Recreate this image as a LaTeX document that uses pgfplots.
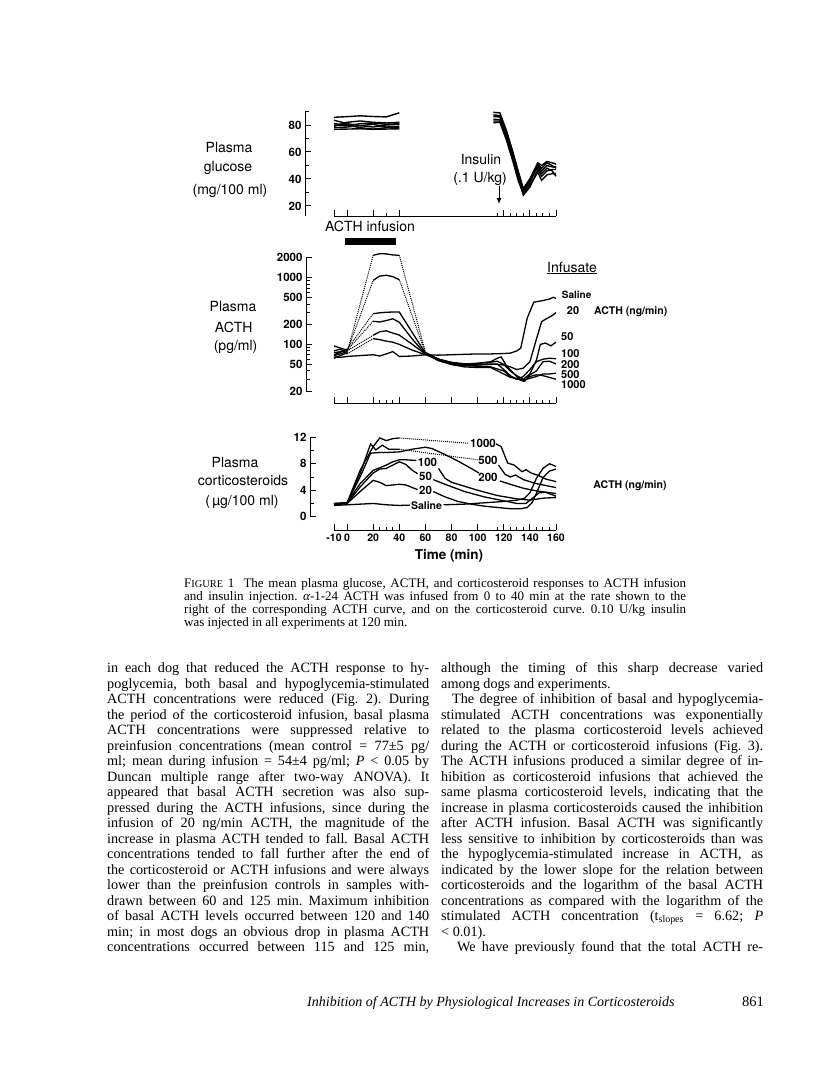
\documentclass[border=0pt]{standalone}
\usepackage{pgfplots}
\pgfplotsset{compat=1.18}
\usepackage{fontspec}
\usetikzlibrary{arrows.meta}
\setmainfont{Liberation Serif}
\newfontfamily\figfont{TeX Gyre Heros}
\frenchspacing
\newcommand{\bodyf}{\fontsize{14.2}{15.5}\selectfont}
\newcommand{\capf}{\fontsize{13}{13}\selectfont}
\newcommand{\jl}[3]{\node[anchor=base west,inner sep=0pt,font=\bodyf] at (#1pt,-#2pt) {\hbox to 322pt{#3}};}
\newcommand{\rl}[3]{\node[anchor=base west,inner sep=0pt,font=\bodyf] at (#1pt,-#2pt) {#3};}
\newcommand{\cl}[2]{\node[anchor=base west,inner sep=0pt,font=\capf] at (184pt,-#1pt) {\hbox to 502pt{#2}};}
\pgfplotsset{
 panel/.style={
  scale only axis, width=222pt, xmin=-10, xmax=160, enlargelimits=false, clip=false,
  axis lines=left, axis line style={-,line width=1pt},
  tick align=inside, major tick length=6pt, minor tick length=3.5pt,
  every tick/.append style={black,line width=1pt},
  xtick={-10,0,20,40,60,80,100,120,140,160},
  minor xtick={25,30,35,115,125,130,135,145,150,155},
  xticklabel=\empty,
  tick label style={font=\figfont\bfseries\fontsize{11.5}{13}\selectfont},
  /pgf/number format/assume math mode=true,
  anchor=south west,
 },
 cur/.style={black,line width=1.3pt,no markers},
 gl/.style={black,line width=1.4pt,no markers},
 dot/.style={black,line width=1pt,densely dotted,no markers},
}
\begin{document}
\frenchspacing
\begin{tikzpicture}
\fill[white] (0,0) rectangle (816pt,-1092pt);
\path[use as bounding box] (0,0) rectangle (816pt,-1092pt);

% ---------------- glucose
\begin{axis}[panel, at={(334pt,-216.1pt)}, height=104.6pt,
  ymin=12.5, ymax=90, ytick={20,40,60,80}, minor ytick={30,50,70,90},
  xtick={-10,0,20,40,120,140,160}, minor xtick={30,115,125,130,135,145,150,155},
  axis y line shift=29pt, axis x line shift=0pt]
\addplot[gl] coordinates {(-10,85.7)(0,86.2)(10,86.8)(20,86.3)(30,86.0)(40,89.0)};
\addplot[gl] coordinates {(-10,83.5)(0,81.0)(10,79.5)(20,78.5)(30,80.0)(40,80.5)};
\addplot[gl] coordinates {(-10,79.0)(0,82.0)(10,83.0)(20,82.0)(30,81.5)(40,82.0)};
\addplot[gl] coordinates {(-10,78.0)(0,78.5)(10,79.5)(20,80.5)(30,78.5)(40,79.0)};
\addplot[gl] coordinates {(-10,81.0)(0,80.0)(10,78.0)(20,77.0)(30,78.0)(40,78.0)};
\addplot[gl] coordinates {(-10,76.8)(0,77.0)(10,77.2)(20,76.8)(30,77.0)(40,77.2)};
\addplot[gl] coordinates {(-10,80.0)(0,79.5)(10,81.0)(20,81.5)(30,80.5)(40,81.0)};
\addplot[gl] coordinates {(112,89.4)(117,89.0)(122,76)(127,60)(131,46)(135,33)(140,40)(146,52)(149,50)(153,53)(157,52)(160,51)};
\addplot[gl] coordinates {(112,86.2)(117,86.0)(122,73)(127,57)(131,43)(135,30)(140,37)(146,50)(149,46)(153,50)(157,49)(160,49)};
\addplot[gl] coordinates {(112,84.2)(117,84.0)(122,71)(127,55)(131,41)(135,28)(140,34)(146,47)(149,42)(153,46)(157,47)(160,47)};
\addplot[gl] coordinates {(112,81.7)(117,82.0)(122,69)(127,53)(131,39)(135,29)(140,35)(146,45)(149,39)(153,43)(157,44)(160,44)};
\addplot[gl] coordinates {(112,83.0)(117,83.0)(122,71)(127,56)(131,43)(135,32)(140,40)(146,49)(149,44)(153,48)(157,46)(160,42)};
\addplot[gl] coordinates {(112,87.5)(117,87.0)(122,75)(127,59)(131,45)(135,31)(140,38)(146,51)(149,48)(153,52)(157,50)(160,48)};
\end{axis}

% ---------------- ACTH
\begin{axis}[panel, at={(334pt,-391pt)}, height=133.3pt,
  ymode=log, ymin=20, ymax=2000,
  ytick={20,50,100,200,500,1000,2000}, yticklabels={20,50,100,200,500,1000,2000},
  minor ytick={30,40,60,70,80,90,300,400,600,700,800,900},
  axis y line shift=28pt, axis x line shift=12pt]
% saline
\addplot[cur] coordinates {(-10,65)(-5,64)(0,66)(10,68)(20,70)(25,67)(30,72)(35,78)(40,66)(50,67)(60,70)(70,69)(80,70)(90,71)(100,72)(110,72)(120,73)(125,74)(130,80)(133,88)(138,250)(143,430)(150,455)(155,480)(158,510)(160,490)};
% 20
\addplot[cur] coordinates {(-10,80)(-5,85)(0,72)};
\addplot[dot] coordinates {(0,72)(20,122)};
\addplot[cur] coordinates {(20,122)(25,118)(30,112)(35,108)(40,100)(50,82)(60,70)(70,60)(80,54)(90,51)(100,50)(110,51)(120,49)(125,46)(130,42)(135,44)(140,55)(145,120)(149,220)(153,245)(157,270)(160,300)};
% 50
\addplot[cur] coordinates {(-10,75)(-5,78)(0,80)};
\addplot[dot] coordinates {(0,80)(20,137)};
\addplot[cur] coordinates {(20,137)(25,155)(30,160)(35,148)(40,138)(50,100)(60,72)(70,60)(80,53)(90,51)(100,52)(110,54)(115,56)(120,50)(125,40)(130,34)(135,30)(140,36)(145,58)(148,100)(152,105)(156,95)(160,108)};
% 100
\addplot[cur] coordinates {(-10,95)(-5,88)(0,82)};
\addplot[dot] coordinates {(0,82)(20,222)};
\addplot[cur] coordinates {(20,222)(25,217)(30,228)(35,242)(40,215)(50,120)(60,72)(70,57)(80,50)(90,48)(100,49)(110,50)(115,51)(120,42)(125,34)(130,30)(135,33)(140,42)(145,55)(150,60)(155,62)(160,61)};
% 200
\addplot[cur] coordinates {(-10,70)(-5,76)(0,85)};
\addplot[dot] coordinates {(0,85)(20,289)};
\addplot[cur] coordinates {(20,289)(25,298)(30,304)(35,306)(40,306)(50,150)(60,74)(70,58)(80,51)(90,50)(100,52)(110,55)(115,62)(118,65)(122,48)(128,36)(132,30)(136,28)(140,35)(145,40)(150,55)(155,56)(160,51)};
% 500
\addplot[cur] coordinates {(-10,68)(-5,72)(0,78)};
\addplot[dot] coordinates {(0,78)(20,914)};
\addplot[cur] coordinates {(20,914)(25,1060)(30,1090)(35,1040)(40,935)};
\addplot[dot] coordinates {(40,935)(60,74)};
\addplot[cur] coordinates {(60,74)(70,60)(80,52)(90,48)(100,47)(110,46)(120,40)(125,33)(130,30)(135,29)(140,31)(145,33)(150,36)(155,36)(160,37)};
% 1000
\addplot[cur] coordinates {(-10,62)(-5,68)(0,75)};
\addplot[dot] coordinates {(0,75)(20,2170)};
\addplot[cur] coordinates {(20,2170)(25,2300)(30,2280)(35,2200)(40,2170)};
\addplot[dot] coordinates {(40,2170)(60,76)};
\addplot[cur] coordinates {(60,76)(70,60)(80,50)(90,46)(100,45)(110,45)(120,36)(125,32)(130,31)(135,28)(140,33)(145,35)(150,34)(155,32)(160,30)};
\end{axis}

% ---------------- corticosteroids
\begin{axis}[panel, at={(334pt,-516.7pt)}, height=79.4pt,
  ymin=0, ymax=12, ytick={0,4,8,12}, minor ytick={2,6,10},
  xticklabels={-10,0,20,40,60,80,100,120,140,160},
  xticklabel style={font=\figfont\bfseries\fontsize{10.5}{12}\selectfont},
  axis y line shift=24pt, axis x line shift=13.3pt]
% 1000
\addplot[cur] coordinates {(-10,1.9)(0,2.1)(10,7)(20,10.6)(25,11.9)(30,11.5)(35,11.8)(40,11.9)};
\addplot[dot] coordinates {(40,11.9)(93,11.1)};
\addplot[cur] coordinates {(114,11.0)(118,10.6)(123,8.1)(128,7.8)(134,6.8)(137,7.1)(141,6.6)(147,6.2)(152,5.7)(160,5.3)};
% 500
\addplot[cur] coordinates {(-10,1.9)(0,2.0)(10,6.5)(18,11.0)(22,10.1)(27,10.8)(32,10.2)(40,10.2)};
\addplot[dot] coordinates {(40,10.2)(100,8.6)};
\addplot[cur] coordinates {(116,7.8)(121,6.4)(125,6.0)(129,6.3)(135,5.6)(145,5.0)(160,4.4)};
% 200
\addplot[cur] coordinates {(-10,2.0)(0,2.1)(10,6)(18,9.6)(25,9.7)(30,9.7)(40,9.8)(50,10.2)(60,10.5)(65,10.3)(75,9.4)(85,8.4)(95,7.3)(101,6.6)};
\addplot[cur] coordinates {(117,5.4)(125,4.9)(135,4.3)(145,3.9)(160,3.5)};
% 100
\addplot[cur] coordinates {(-10,2.0)(0,2.1)(10,5)(20,7.0)(25,7.4)(30,7.8)(35,8.3)(40,8.6)(45,8.6)(53,8.5)};
\addplot[cur] coordinates {(70,7.3)(75,5.8)(80,5.2)(90,4.6)(100,4.0)(115,3.2)(130,2.7)(140,2.5)(150,2.8)(160,2.9)};
% 50
\addplot[cur] coordinates {(-10,1.9)(0,2.0)(10,4.5)(20,6.6)(25,7.2)(30,7.3)(35,7.8)(40,8.3)(45,7.9)(50,7.0)(54,6.5)};
\addplot[cur] coordinates {(66,5.6)(75,4.9)(90,3.8)(105,3.0)(120,2.4)(130,2.0)(137,2.0)(142,2.8)(147,3.6)(152,3.7)(160,3.1)};
% 20
\addplot[cur] coordinates {(-10,1.8)(0,2.0)(10,3.8)(20,5.5)(25,5.2)(30,4.7)(35,4.8)(40,4.9)(45,4.8)(50,4.4)(54,4.1)};
\addplot[cur] coordinates {(66,3.8)(75,3.0)(85,2.3)(95,1.9)(105,1.6)(115,1.4)(125,1.2)(133,1.2)(138,1.4)(142,2.2)(146,4.0)(150,5.9)(155,6.9)(160,7.2)};
% saline
\addplot[cur] coordinates {(-10,1.7)(0,1.8)(20,2.0)(30,1.8)(40,1.7)(48,1.75)};
\addplot[cur] coordinates {(74,1.8)(90,1.9)(105,2.1)(120,2.3)(130,2.5)(136,2.8)(140,3.6)(145,5.8)(150,7.3)(155,8.0)(160,7.6)};
\end{axis}

% ---------------- figure texts
\begin{scope}[every node/.style={inner sep=0pt}]
\node[anchor=base,font=\figfont\fontsize{14}{16}\selectfont] at (229pt,-152.5pt) {Plasma};
\node[anchor=base,font=\figfont\fontsize{14}{16}\selectfont] at (228pt,-171.5pt) {glucose};
\node[anchor=base,font=\figfont\fontsize{14}{16}\selectfont] at (230pt,-194.5pt) {(mg/100 ml)};
\node[anchor=base,font=\figfont\fontsize{14}{16}\selectfont] at (233pt,-311.8pt) {Plasma};
\node[anchor=base,font=\figfont\fontsize{14}{16}\selectfont] at (233.7pt,-332.2pt) {ACTH};
\node[anchor=base,font=\figfont\fontsize{14}{16}\selectfont] at (235.6pt,-350.5pt) {(pg/ml)};
\node[anchor=base,font=\figfont\fontsize{14}{16}\selectfont] at (235pt,-467.8pt) {Plasma};
\node[anchor=base,font=\figfont\fontsize{14}{16}\selectfont] at (243pt,-485.5pt) {corticosteroids};
\node[anchor=base,font=\figfont\fontsize{14}{16}\selectfont] at (242pt,-505.5pt) {(\,µg/100 ml)};
\node[anchor=base,font=\figfont\fontsize{14}{16}\selectfont] at (370pt,-231.5pt) {ACTH infusion};
\node[anchor=base,font=\figfont\fontsize{14}{16}\selectfont] at (481pt,-164pt) {Insulin};
\node[anchor=base,font=\figfont\fontsize{14}{16}\selectfont] at (480pt,-182pt) {(.1 U/kg)};
\node[anchor=base,font=\figfont\fontsize{14}{16}\selectfont] at (572pt,-272pt) {\underline{Infusate}};
\node[anchor=base west,font=\figfont\bfseries\fontsize{10}{12}\selectfont] at (561.7pt,-298.5pt) {Saline};
\node[anchor=base west,font=\figfont\bfseries\fontsize{11}{12}\selectfont] at (566.7pt,-314pt) {20};
\node[anchor=base,font=\figfont\bfseries\fontsize{10.5}{12}\selectfont] at (630.7pt,-314pt) {ACTH (ng/min)};
\node[anchor=base west,font=\figfont\bfseries\fontsize{11}{12}\selectfont] at (561pt,-340.7pt) {50};
\node[anchor=base west,font=\figfont\bfseries\fontsize{11}{12}\selectfont] at (561pt,-357pt) {100};
\node[anchor=base west,font=\figfont\bfseries\fontsize{11}{12}\selectfont] at (561pt,-368pt) {200};
\node[anchor=base west,font=\figfont\bfseries\fontsize{11}{12}\selectfont] at (561pt,-378pt) {500};
\node[anchor=base west,font=\figfont\bfseries\fontsize{11}{12}\selectfont] at (561pt,-388pt) {1000};
\node[anchor=base,font=\figfont\bfseries\fontsize{10.5}{12}\selectfont] at (630pt,-488pt) {ACTH (ng/min)};
\node[anchor=base,font=\figfont\bfseries\fontsize{11.5}{12}\selectfont] at (483pt,-447.3pt) {1000};
\node[anchor=base,font=\figfont\bfseries\fontsize{11.5}{12}\selectfont] at (488pt,-464.7pt) {500};
\node[anchor=base,font=\figfont\bfseries\fontsize{11.5}{12}\selectfont] at (488pt,-481.3pt) {200};
\node[anchor=base,font=\figfont\bfseries\fontsize{11.5}{12}\selectfont] at (427.5pt,-466.7pt) {100};
\node[anchor=base,font=\figfont\bfseries\fontsize{11.5}{12}\selectfont] at (425.5pt,-480.7pt) {50};
\node[anchor=base,font=\figfont\bfseries\fontsize{11.5}{12}\selectfont] at (425.5pt,-494pt) {20};
\node[anchor=base,font=\figfont\bfseries\fontsize{10.5}{12}\selectfont] at (426.5pt,-509pt) {Saline};
\node[anchor=base,font=\figfont\bfseries\fontsize{13.5}{16}\selectfont] at (449pt,-559pt) {Time (min)};
\end{scope}
\fill[black] (345pt,-238pt) rectangle (396pt,-244.5pt);
\draw[line width=1pt,-{Latex[length=6pt,width=5pt]}] (499pt,-186pt) -- (499pt,-204pt);

% ---------------- caption
\cl{587.5}{F{\fontsize{10.4}{10}\selectfont IGURE}~1\hspace{0.7em}The mean plasma glucose, ACTH, and corticosteroid responses to ACTH infusion}
\cl{600.5}{and insulin injection. \textit{α}-1-24 ACTH was infused from 0 to 40 min at the rate shown to the}
\cl{613.5}{right of the corresponding ACTH curve, and on the corticosteroid curve. 0.10 U/kg insulin}
\node[anchor=base west,inner sep=0pt,font=\capf] at (184pt,-626.5pt) {was injected in all experiments at 120 min.};

% ---------------- body, left column
\jl{107}{672.5}{in each dog that reduced the ACTH response to hy-}
\jl{107}{688}{poglycemia, both basal and hypoglycemia-stimulated}
\jl{107}{703.5}{ACTH concentrations were reduced (Fig. 2). During}
\jl{107}{719}{the period of the corticosteroid infusion, basal plasma}
\jl{107}{734.5}{ACTH concentrations were suppressed relative to}
\jl{107}{750}{preinfusion concentrations (mean control = 77±5 pg/}
\jl{107}{765.5}{ml; mean during infusion = 54±4 pg/ml; \textit{P} < 0.05 by}
\jl{107}{781}{Duncan multiple range after two-way ANOVA). It}
\jl{107}{796.5}{appeared that basal ACTH secretion was also sup-}
\jl{107}{812}{pressed during the ACTH infusions, since during the}
\jl{107}{827.5}{infusion of 20 ng/min ACTH, the magnitude of the}
\jl{107}{843}{increase in plasma ACTH tended to fall. Basal ACTH}
\jl{107}{858.5}{concentrations tended to fall further after the end of}
\jl{107}{874}{the corticosteroid or ACTH infusions and were always}
\jl{107}{889.5}{lower than the preinfusion controls in samples with-}
\jl{107}{905}{drawn between 60 and 125 min. Maximum inhibition}
\jl{107}{920.5}{of basal ACTH levels occurred between 120 and 140}
\jl{107}{936}{min; in most dogs an obvious drop in plasma ACTH}
\jl{107}{951.5}{concentrations occurred between 115 and 125 min,}

% ---------------- body, right column
\jl{441}{672.5}{although the timing of this sharp decrease varied}
\rl{441}{688}{among dogs and experiments.}
\jl{441}{703.5}{\hspace*{11pt}The degree of inhibition of basal and hypoglycemia-}
\jl{441}{719}{stimulated ACTH concentrations was exponentially}
\jl{441}{734.5}{related to the plasma corticosteroid levels achieved}
\jl{441}{750}{during the ACTH or corticosteroid infusions (Fig. 3).}
\jl{441}{765.5}{The ACTH infusions produced a similar degree of in-}
\jl{441}{781}{hibition as corticosteroid infusions that achieved the}
\jl{441}{796.5}{same plasma corticosteroid levels, indicating that the}
\jl{441}{812}{increase in plasma corticosteroids caused the inhibition}
\jl{441}{827.5}{after ACTH infusion. Basal ACTH was significantly}
\jl{441}{843}{less sensitive to inhibition by corticosteroids than was}
\jl{441}{858.5}{the hypoglycemia-stimulated increase in ACTH, as}
\jl{441}{874}{indicated by the lower slope for the relation between}
\jl{441}{889.5}{corticosteroids and the logarithm of the basal ACTH}
\jl{441}{905}{concentrations as compared with the logarithm of the}
\jl{441}{920.5}{stimulated ACTH concentration (t\textsubscript{slopes} = 6.62; \textit{P}}
\rl{441}{936}{< 0.01).}
\jl{441}{951.5}{\hspace*{16pt}We have previously found that the total ACTH re-}

% ---------------- footer
\node[anchor=base west,inner sep=0pt,font=\itshape\fontsize{14}{16}\selectfont] at (307pt,-1006pt) {Inhibition of ACTH by Physiological Increases in Corticosteroids};
\node[anchor=base east,inner sep=0pt,font=\fontsize{14.5}{16}\selectfont] at (764pt,-1006pt) {861};
\end{tikzpicture}
\end{document}
